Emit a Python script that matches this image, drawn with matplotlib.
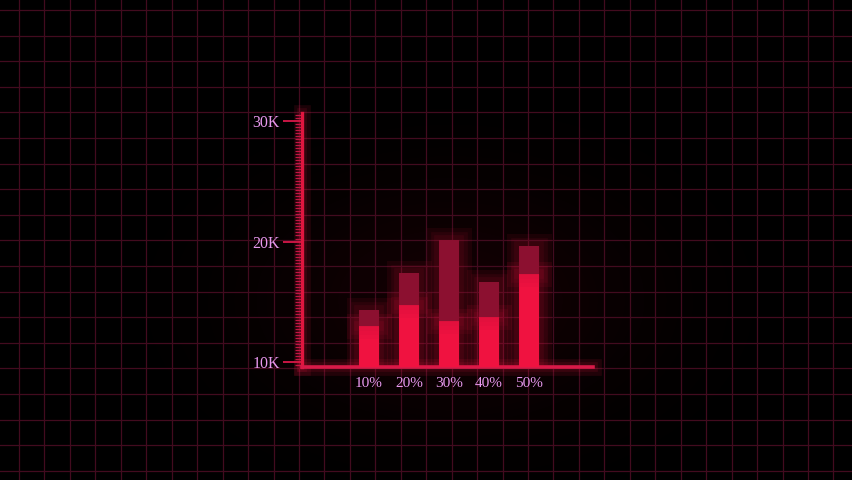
#!/usr/bin/env python3
import numpy as np
from matplotlib import pyplot as plt
from matplotlib import patheffects as pe
from matplotlib.ticker import FixedLocator, MultipleLocator, FuncFormatter

categories = ['10%', '20%', '30%', '40%', '50%']
lower = [13000, 14700, 13400, 13750, 17300]
totals = [14350, 17350, 20150, 16600, 19650]
y_ticks = [10000, 20000, 30000]

BRIGHT = '#f01240'
DARK = '#8c1030'
TEXT = '#e898ee'


def glow(color, widths=(18, 12, 7), alpha=0.09):
    fx = [pe.Stroke(linewidth=w, foreground=color, alpha=alpha) for w in widths]
    return fx + [pe.Normal()]


def main():
    plt.rcParams['font.family'] = ['Liberation Serif', 'DejaVu Serif']
    fig = plt.figure(figsize=(8.52, 4.8), dpi=100, facecolor='black')

    # background grid
    bg = fig.add_axes([0, 0, 1, 1])
    bg.set_facecolor('black')
    # soft red halo behind the chart
    yy, xx = np.mgrid[0:480, 0:852]
    halo = np.exp(-(((xx - 450) / 190.0) ** 2 + ((yy - 300) / 120.0) ** 2))
    img = np.zeros((480, 852, 4))
    img[..., 0] = 0.75
    img[..., 2] = 0.12
    img[..., 3] = halo * 0.10
    bg.imshow(img, extent=(0, 852, 480, 0), zorder=0, aspect='auto')
    bg.set_xlim(0, 852)
    bg.set_ylim(480, 0)
    bg.set_xticks(np.arange(19, 852, 25.45))
    bg.set_yticks(np.arange(10, 480, 25.6))
    bg.set_axisbelow(False)
    bg.grid(True, color='#420b1f', linewidth=0.9)
    bg.tick_params(length=0, labelbottom=False, labelleft=False)
    for s in bg.spines.values():
        s.set_visible(False)

    ax = fig.add_axes([0.3545, 0.2358, 0.3415, 0.5296])
    ax.patch.set_alpha(0)
    x = np.arange(len(categories))
    base = 9600
    ax.bar(x, np.array(lower) - base, bottom=base, width=0.5, color=BRIGHT,
           path_effects=glow(BRIGHT), zorder=3)
    ax.bar(x, np.array(totals) - np.array(lower), bottom=lower, width=0.5,
           color=DARK, path_effects=glow('#c01035'), zorder=3)

    ax.set_xlim(-1.675, 5.6)
    ax.set_ylim(base, 30700)
    for side in ['top', 'right']:
        ax.spines[side].set_visible(False)
    ax.spines['left'].set_color('#e0163f')
    ax.spines['left'].set_linewidth(2.4)
    ax.spines['bottom'].set_color('#d81a48')
    ax.spines['bottom'].set_linewidth(2.6)
    for side in ['left', 'bottom']:
        ax.spines[side].set_path_effects(glow('#e0163f', (12, 7), 0.12))

    ax.yaxis.set_major_locator(FixedLocator(y_ticks))
    ax.yaxis.set_minor_locator(MultipleLocator(250))
    ax.yaxis.set_major_formatter(FuncFormatter(lambda v, p: '%dK' % (v / 1000)))
    ax.tick_params(axis='y', which='major', length=14, width=1.3,
                   color='#d8184a', labelcolor=TEXT, labelsize=11.5, pad=2)
    ax.tick_params(axis='y', which='minor', length=5, width=0.9,
                   color='#c01545')
    ax.set_xticks(x)
    ax.set_xticklabels(categories)
    ax.tick_params(axis='x', length=0, labelcolor=TEXT, labelsize=11, pad=7)

    fig.savefig('out.png', dpi=100, facecolor='black')


if __name__ == '__main__':
    main()
